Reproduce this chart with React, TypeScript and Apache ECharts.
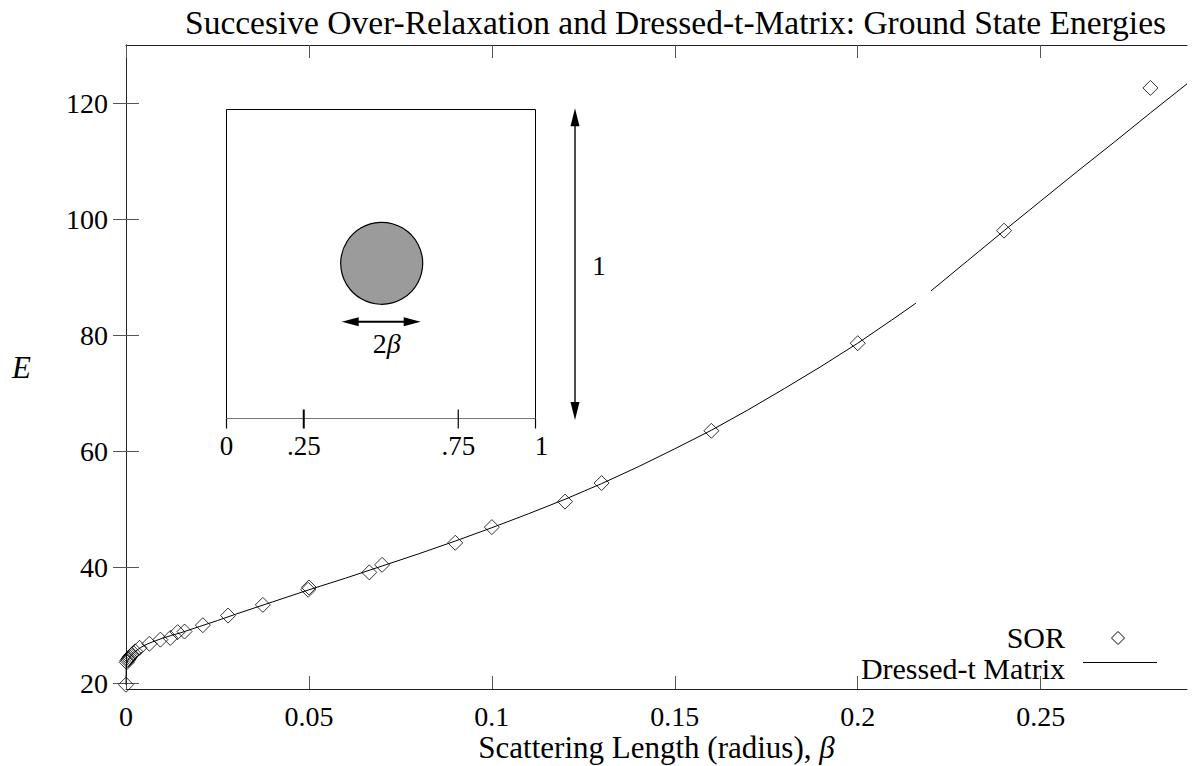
import React, { useEffect, useRef } from "react";
import * as echarts from "echarts";

// Axis ticks
const xTicks = [0, 0.05, 0.1, 0.15, 0.2, 0.25];
const xTickLabels = ["0", "0.05", "0.1", "0.15", "0.2", "0.25"];
const yTicks = [20, 40, 60, 80, 100, 120];

// SOR ground-state energies
const sorBeta = [
  0, 0.0002, 0.0004, 0.0006, 0.0008, 0.001, 0.0013, 0.0016, 0.002, 0.0025,
  0.0037, 0.0064, 0.0094, 0.0121, 0.0141, 0.016, 0.021, 0.0279, 0.0374,
  0.0498, 0.05, 0.0665, 0.07, 0.09, 0.1, 0.12, 0.13, 0.16, 0.2, 0.24, 0.28,
];
const sorEnergy = [
  19.74, 23.6, 23.9, 24.1, 24.3, 24.5, 24.7, 24.9, 25.2, 25.5,
  26.1, 26.8, 27.5, 27.8, 28.8, 28.9, 30.0, 31.65, 33.5,
  36.1, 36.5, 39.1, 40.4, 44.2, 46.9, 51.3, 54.5, 63.5, 78.6, 98.0, 122.6,
];

// Dressed-t matrix curve (null marks the break in the curve)
const curveBeta = [
  0, 0.00005, 0.0002, 0.0005, 0.001, 0.0015, 0.002, 0.003, 0.004, 0.006,
  0.008, 0.01, 0.0125, 0.015, 0.02, 0.025, 0.03, 0.04, 0.05, 0.06, 0.07,
  0.08, 0.09, 0.1, 0.11, 0.12, 0.13, 0.14, 0.15, 0.16, 0.17, 0.18, 0.19,
  0.2, 0.21, 0.2159, 0.218, 0.22, 0.23, 0.24, 0.25, 0.26, 0.27, 0.28, 0.29,
];
const curveEnergy: (number | null)[] = [
  19.74, 22.8, 23.5, 23.95, 24.45, 24.85, 25.15, 25.7, 26.15, 26.8,
  27.3, 27.75, 28.25, 28.7, 29.75, 30.8, 31.9, 34.0, 36.1, 38.1, 40.2,
  42.3, 44.5, 46.8, 49.2, 51.7, 54.4, 57.3, 60.4, 63.6, 67.1, 70.8, 74.6,
  78.6, 82.9, 85.5, null, 87.6, 92.8, 98.0, 103.1, 108.2, 113.2, 118.3, 123.3,
];

// Inset sketch axis
const insetTicks = [0, 0.25, 0.75, 1];
const insetTickLabels = ["0", ".25", ".75", "1"];

const FONT = "Liberation Serif";

function buildInset(): any[] {
  const x0 = 226.5;
  const y0 = 109.5;
  const size = 309;
  const yb = y0 + size;
  const els: any[] = [];
  els.push({
    type: "polyline",
    shape: { points: [[x0, yb], [x0, y0], [x0 + size, y0], [x0 + size, yb]] },
    style: { stroke: "#000", lineWidth: 1, fill: null },
  });
  els.push({
    type: "line",
    shape: { x1: x0, y1: yb, x2: x0 + size, y2: yb },
    style: { stroke: "#777", lineWidth: 1.2 },
  });
  insetTicks.forEach((t, i) => {
    const x = x0 + t * size;
    const inner = t > 0 && t < 1;
    els.push({
      type: "line",
      shape: { x1: x, y1: inner ? yb - 9 : yb, x2: x, y2: yb + 10 },
      style: { stroke: "#000", lineWidth: t === 0.25 ? 2 : 1.2 },
    });
    els.push({
      type: "text",
      x: t === 1 ? x + 6 : x,
      y: yb + 27,
      style: {
        text: insetTickLabels[i],
        fontFamily: FONT,
        fontSize: 27,
        fill: "#000",
        align: "center",
        verticalAlign: "middle",
      },
    });
  });
  // scatterer disk
  els.push({
    type: "circle",
    shape: { cx: 381.7, cy: 263.3, r: 41 },
    style: { fill: "#9b9b9b", stroke: "#000", lineWidth: 1.2 },
  });
  // 2β arrow
  const ay = 321.7;
  const al = 341.7;
  const ar = 420.7;
  els.push({
    type: "line",
    shape: { x1: al + 10, y1: ay, x2: ar - 10, y2: ay },
    style: { stroke: "#000", lineWidth: 2 },
  });
  els.push({
    type: "polygon",
    shape: { points: [[al, ay], [al + 17, ay - 4.5], [al + 17, ay + 4.5]] },
    style: { fill: "#000" },
  });
  els.push({
    type: "polygon",
    shape: { points: [[ar, ay], [ar - 17, ay - 4.5], [ar - 17, ay + 4.5]] },
    style: { fill: "#000" },
  });
  els.push({
    type: "text",
    x: 386.7,
    y: 343,
    style: {
      text: "2{b|β}",
      fontFamily: FONT,
      fontSize: 28,
      fill: "#000",
      align: "center",
      verticalAlign: "middle",
      rich: { b: { fontFamily: FONT, fontSize: 28, fontStyle: "italic", fill: "#000" } },
    },
  });
  // unit-length arrow
  const vx = 575;
  const vt = 108.3;
  const vb = 420;
  els.push({
    type: "line",
    shape: { x1: vx, y1: vt + 10, x2: vx, y2: vb - 10 },
    style: { stroke: "#000", lineWidth: 1.4 },
  });
  els.push({
    type: "polygon",
    shape: { points: [[vx, vt], [vx - 4.5, vt + 18], [vx + 4.5, vt + 18]] },
    style: { fill: "#000" },
  });
  els.push({
    type: "polygon",
    shape: { points: [[vx, vb], [vx - 4.5, vb - 18], [vx + 4.5, vb - 18]] },
    style: { fill: "#000" },
  });
  els.push({
    type: "text",
    x: 599,
    y: 266,
    style: {
      text: "1",
      fontFamily: FONT,
      fontSize: 27,
      fill: "#000",
      align: "center",
      verticalAlign: "middle",
    },
  });
  return els;
}

function buildKey(): any[] {
  const tx = 1065;
  const keyFont = { fontFamily: FONT, fontSize: 30, fill: "#000", align: "right", verticalAlign: "middle" };
  return [
    { type: "text", x: tx, y: 637, style: { text: "SOR", ...keyFont } },
    {
      type: "polygon",
      shape: { points: [[1118, 631.5], [1124.5, 638], [1118, 644.5], [1111.5, 638]] },
      style: { fill: null, stroke: "#000", lineWidth: 1 },
    },
    { type: "text", x: tx, y: 668, style: { text: "Dressed-t Matrix", ...keyFont } },
    {
      type: "line",
      shape: { x1: 1083, y1: 662.5, x2: 1157, y2: 662.5 },
      style: { stroke: "#000", lineWidth: 1 },
    },
  ];
}

export default function App() {
  const ref = useRef<HTMLDivElement>(null);

  useEffect(() => {
    if (!ref.current) return;
    const chart = echarts.init(ref.current, null, { renderer: "svg" });

    const sorData = sorBeta.map((b, i) => [b, sorEnergy[i]]);
    const curveData = curveBeta.map((b, i) => [b, curveEnergy[i]]);

    const tickStyle = { color: "#555", width: 1 };
    const frameStyle = { color: "#222", width: 1 };
    const labelStyle = { fontFamily: FONT, fontSize: 28, color: "#000" };

    chart.setOption({
      animation: false,
      backgroundColor: "#fff",
      title: {
        text: "Succesive Over-Relaxation and Dressed-t-Matrix: Ground State Energies",
        left: 185,
        top: 5,
        padding: 0,
        textStyle: { fontFamily: FONT, fontSize: 33.5, fontWeight: "normal", color: "#000" },
      },
      grid: { left: 126, right: 9, top: 45, bottom: 77, outerBoundsMode: "none" },
      xAxis: [
        {
          type: "value",
          position: "bottom",
          min: 0,
          max: 0.29,
          axisLine: { show: true, lineStyle: frameStyle },
          axisTick: { show: true, inside: true, length: 13, customValues: xTicks, lineStyle: tickStyle },
          axisLabel: {
            customValues: xTicks,
            margin: 13,
            ...labelStyle,
            formatter: (v: number) => {
              const i = xTicks.indexOf(v);
              return i >= 0 ? xTickLabels[i] : String(v);
            },
          },
          splitLine: { show: false },
          name: "Scattering Length (radius), {b|β}",
          nameLocation: "middle",
          nameGap: 43,
          nameMoveOverlap: false,
          nameTextStyle: {
            fontFamily: FONT,
            fontSize: 31,
            color: "#000",
            rich: { b: { fontFamily: FONT, fontSize: 31, fontStyle: "italic", color: "#000" } },
          },
        },
        {
          type: "value",
          position: "top",
          min: 0,
          max: 0.29,
          axisLine: { show: true, lineStyle: frameStyle },
          axisTick: { show: true, inside: true, length: 13, customValues: xTicks, lineStyle: tickStyle },
          axisLabel: { show: false },
          splitLine: { show: false },
        },
      ],
      yAxis: [
        {
          type: "value",
          position: "left",
          min: 19,
          max: 130,
          axisLine: { show: true, lineStyle: frameStyle },
          axisTick: { show: true, inside: true, length: 13, customValues: yTicks, lineStyle: tickStyle },
          axisLabel: { customValues: yTicks, margin: 18, ...labelStyle },
          splitLine: { show: false },
          name: "E",
          nameLocation: "middle",
          nameRotate: 0,
          nameGap: 95,
          nameMoveOverlap: false,
          nameTextStyle: { fontFamily: FONT, fontSize: 31, fontStyle: "italic", color: "#000", padding: [8, 0, 0, 0] },
        },
        {
          type: "value",
          position: "right",
          min: 19,
          max: 130,
          axisLine: { show: true, lineStyle: frameStyle },
          axisTick: { show: true, inside: true, length: 13, customValues: yTicks, lineStyle: tickStyle },
          axisLabel: { show: false },
          splitLine: { show: false },
        },
      ],
      series: [
        {
          name: "Dressed-t Matrix",
          type: "line",
          xAxisIndex: 0,
          yAxisIndex: 0,
          data: curveData,
          symbol: "none",
          connectNulls: false,
          lineStyle: { color: "#000", width: 1 },
          silent: true,
          z: 2,
        },
        {
          name: "SOR",
          type: "scatter",
          xAxisIndex: 0,
          yAxisIndex: 0,
          data: sorData,
          symbol: "diamond",
          symbolSize: 15,
          itemStyle: { color: "rgba(0,0,0,0)", borderColor: "#000", borderWidth: 1 },
          silent: true,
          z: 3,
        },
      ],
      graphic: [...buildInset(), ...buildKey()],
    });

    return () => chart.dispose();
  }, []);

  return (
    <div
      ref={ref}
      style={{ position: "absolute", left: 0, top: 0, width: 1196, height: 766, background: "#fff" }}
    />
  );
}
